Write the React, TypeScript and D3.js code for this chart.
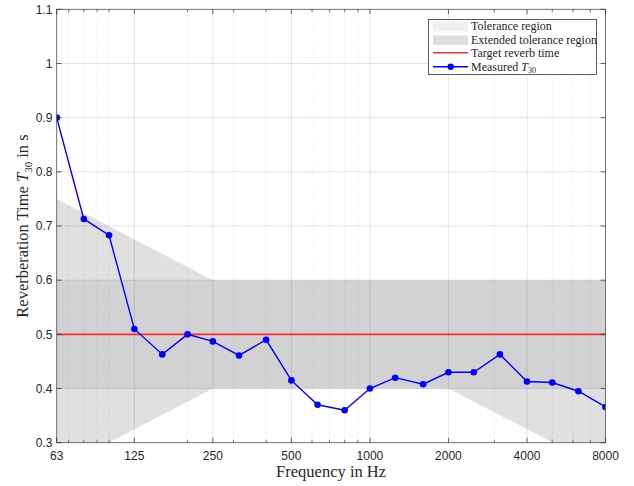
import React from "react";
import * as d3 from "d3";

const freqs = [63, 80, 100, 125, 160, 200, 250, 315, 400, 500, 630, 800, 1000, 1250, 1600, 2000, 2500, 3150, 4000, 5000, 6300, 8000];
const t30 = [0.9, 0.713, 0.683, 0.51, 0.463, 0.5, 0.487, 0.461, 0.49, 0.415, 0.37, 0.36, 0.4, 0.42, 0.408, 0.43, 0.43, 0.463, 0.413, 0.411, 0.395, 0.366];
const targetT = 0.5;
const extUpperF = [63, 250, 8000];
const extUpperV = [0.75, 0.6, 0.6];
const extLowerF = [8000, 2000, 250, 63];
const extLowerV = [0.25, 0.4, 0.4, 0.25];
const tolF = [63, 8000];
const tolUpper = 0.6;
const tolLower = 0.4;
const xTicks = [63, 125, 250, 500, 1000, 2000, 4000, 8000];
const xTickLabels = ["63", "125", "250", "500", "1000", "2000", "4000", "8000"];
const xMinor = [70, 80, 90, 100, 200, 300, 400, 600, 700, 800, 900, 3000, 5000, 6000, 7000];
const yTicks = [0.3, 0.4, 0.5, 0.6, 0.7, 0.8, 0.9, 1.0, 1.1];
const yTickLabels = ["0.3", "0.4", "0.5", "0.6", "0.7", "0.8", "0.9", "1", "1.1"];
const legendLabels = ["Tolerance region", "Extended tolerance region", "Target reverb time", "Measured "];

const L = 56.7, R = 605.5, T = 9.3, B = 442.7;
const serif = "'Liberation Serif', 'DejaVu Serif', serif";
const sans = "'Liberation Sans', Arial, sans-serif";

export default function App() {
  const x = d3.scaleLog().domain([63, 8000]).range([L, R]);
  const y = d3.scaleLinear().domain([0.3, 1.1]).range([B, T]);

  const extPts: [number, number][] = [
    ...extUpperF.map((f, i) => [x(f), y(extUpperV[i])] as [number, number]),
    ...extLowerF.map((f, i) => [x(f), y(extLowerV[i])] as [number, number]),
  ];
  const polyPath = d3.line()(extPts) + "Z";
  const line = d3.line<number>().x((_, i) => x(freqs[i])).y((v) => y(v));

  const tickCol = "#262626";
  const gridCol = "rgba(0,0,0,0.1)";
  const minorCol = "rgba(0,0,0,0.14)";

  return (
    <svg width={634} height={486} style={{ position: "fixed", left: 0, top: 0, background: "#fff" }}>
      <defs>
        <clipPath id="plotclip">
          <rect x={L} y={T} width={R - L} height={B - T} />
        </clipPath>
      </defs>
      <rect x={0} y={0} width={634} height={486} fill="#fff" />
      <g clipPath="url(#plotclip)">
        <path d={polyPath} fill="#e0e0e0" />
        <rect x={x(tolF[0])} y={y(tolUpper)} width={x(tolF[1]) - x(tolF[0])} height={y(tolLower) - y(tolUpper)} fill="rgba(0,0,0,0.06)" />
        {xMinor.map((f) => (
          <line key={"mg" + f} x1={x(f)} x2={x(f)} y1={T} y2={B} stroke={minorCol} strokeWidth={0.8} strokeDasharray="1,2" />
        ))}
        {xTicks.map((f) => (
          <line key={"xg" + f} x1={x(f)} x2={x(f)} y1={T} y2={B} stroke={gridCol} strokeWidth={1} />
        ))}
        {yTicks.map((v) => (
          <line key={"yg" + v} x1={L} x2={R} y1={y(v)} y2={y(v)} stroke={gridCol} strokeWidth={1} />
        ))}
        <line x1={L} x2={R} y1={y(targetT)} y2={y(targetT)} stroke="#ff2a2a" strokeWidth={1.6} />
        <path d={line(t30) || ""} fill="none" stroke="#0000ff" strokeWidth={1.4} />
        {t30.map((v, i) => (
          <circle key={"p" + i} cx={x(freqs[i])} cy={y(v)} r={3.3} fill="#0000ff" />
        ))}
      </g>
      <rect x={L} y={T} width={R - L} height={B - T} fill="none" stroke="#555" strokeWidth={0.8} />
      {xTicks.map((f) => (
        <g key={"xt" + f}>
          <line x1={x(f)} x2={x(f)} y1={B} y2={B - 5} stroke={tickCol} strokeWidth={0.7} />
          <line x1={x(f)} x2={x(f)} y1={T} y2={T + 5} stroke={tickCol} strokeWidth={0.7} />
        </g>
      ))}
      {xMinor.map((f) => (
        <g key={"xm" + f}>
          <line x1={x(f)} x2={x(f)} y1={B} y2={B - 3} stroke={tickCol} strokeWidth={0.6} />
          <line x1={x(f)} x2={x(f)} y1={T} y2={T + 3} stroke={tickCol} strokeWidth={0.6} />
        </g>
      ))}
      {yTicks.map((v) => (
        <g key={"yt" + v}>
          <line x1={L} x2={L + 5} y1={y(v)} y2={y(v)} stroke={tickCol} strokeWidth={0.7} />
          <line x1={R} x2={R - 5} y1={y(v)} y2={y(v)} stroke={tickCol} strokeWidth={0.7} />
        </g>
      ))}
      {xTicks.map((f, i) => (
        <text key={"xl" + f} x={x(f)} y={460} textAnchor="middle" fontFamily={sans} fontSize={12} fill={tickCol}>
          {xTickLabels[i]}
        </text>
      ))}
      {yTicks.map((v, i) => (
        <text key={"yl" + v} x={52.5} y={y(v) + 4.3} textAnchor="end" fontFamily={sans} fontSize={12} fill={tickCol}>
          {yTickLabels[i]}
        </text>
      ))}
      <text x={(L + R) / 2} y={476.5} textAnchor="middle" fontFamily={serif} fontSize={16.5} fill={tickCol}>
        Frequency in Hz
      </text>
      <text transform={`translate(27.5,${(T + B) / 2}) rotate(-90)`} textAnchor="middle" fontFamily={serif} fontSize={16.5} fill={tickCol}>
        Reverberation Time <tspan fontStyle="italic">T</tspan>
        <tspan fontSize={11} dy={4}>30</tspan>
        <tspan dy={-4}> in s</tspan>
      </text>
      <g>
        <rect x={428.5} y={19.5} width={168} height={55} fill="#fff" stroke="#333" strokeWidth={0.8} />
        <rect x={433} y={21.5} width={35} height={10} fill="rgba(0,0,0,0.06)" />
        <rect x={433} y={35.5} width={35} height={9.5} fill="#dedede" />
        <line x1={433} x2={468} y1={52.7} y2={52.7} stroke="#ff2a2a" strokeWidth={1.5} />
        <line x1={433} x2={468} y1={66.7} y2={66.7} stroke="#0000ff" strokeWidth={1.4} />
        <circle cx={450.7} cy={66.7} r={3.2} fill="#0000ff" />
        {legendLabels.map((s, i) => (
          <text key={"lg" + i} x={471} y={30 + i * 13.6} fontFamily={serif} fontSize={12} fill={tickCol}>
            {s}
            {i === 3 ? (
              <>
                <tspan fontStyle="italic">T</tspan>
                <tspan fontSize={8} dy={2.5}>30</tspan>
              </>
            ) : null}
          </text>
        ))}
      </g>
    </svg>
  );
}
